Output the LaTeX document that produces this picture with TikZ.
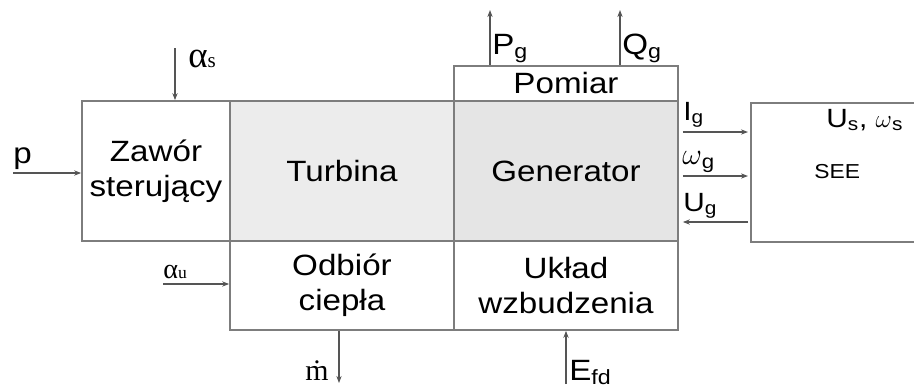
\documentclass[tikz,border=0pt]{standalone}
\usepackage{fontspec}
\setmainfont{Liberation Sans}[FakeStretch=1.13]
\newfontfamily\serif{Liberation Serif}
\usepackage{tikz}
\usetikzlibrary{positioning,calc,arrows.meta}
\definecolor{ramka}{RGB}{125,125,125}
\definecolor{strzalka}{RGB}{85,85,85}
\definecolor{jasny}{RGB}{236,236,236}
\definecolor{ciemny}{RGB}{229,229,229}

\begin{document}
\begin{tikzpicture}[x=0.02cm,y=-0.02cm,>={Stealth[length=4pt,width=3pt]},
blok/.style = {draw=ramka, line width=1pt, inner sep=0pt, align=center, font=\fontsize{16.7}{19.8}\selectfont},
strz/.style = {->, draw=strzalka, line width=0.6pt},
opis/.style = {inner sep=0pt, anchor=base west, font=\fontsize{16.7}{20}\selectfont},]
\useasboundingbox (0,0) rectangle (914,387);
% bloki
\node (zawor) at (156,171)[blok,minimum width=2.96cm,minimum height=2.8cm] {Zawór\\sterujący};
\node (turbina) at (342,171)[blok,fill=jasny,minimum width=4.48cm,minimum height=2.8cm] {Turbina};
\node (generator) at (566,171)[blok,fill=ciemny,minimum width=4.48cm,minimum height=2.8cm] {Generator};
\node (pomiar) at (566,83.5)[blok,minimum width=4.48cm,minimum height=0.7cm] {Pomiar};
\node (odbior) at (342,285.5)[blok,minimum width=4.48cm,minimum height=1.78cm] {Odbiór\\ciepła};
\node (uklad) at (566,285.5)[blok,minimum width=4.48cm,minimum height=1.78cm] {Układ\\wzbudzenia};
% SEE
\draw[ramka,line width=1pt] (914,103) -| (751,242) -- (914,242);
\node (see) at (814,178)[opis,font=\fontsize{11.5}{13}\selectfont] {SEE};
\node (us) at (826,127)[opis,font=\fontsize{15}{17}\selectfont] {U\textsubscript{s}, $\omega$\textsubscript{s}};
% wejscia i wyjscia
\coordinate (p0) at (13,173);
\coordinate (as0) at (175,48);
\coordinate (au0) at (163,284);
\coordinate (m1) at (339,383);
\coordinate (efd0) at (566,384);
\coordinate (pg1) at (490,10);
\coordinate (qg1) at (620,10);
\coordinate (ig1) at (748,132);
\coordinate (wg1) at (748,176);
\coordinate (ug0) at (748,222);
\draw[strz] (p0) -- (p0 -| zawor.west);
\draw[strz] (as0) -- (as0 |- zawor.north);
\draw[strz] (au0) -- (au0 -| odbior.west);
\draw[strz] (m1 |- odbior.south) -- (m1);
\draw[strz] (efd0) -- (uklad.south);
\draw[strz] (pg1 |- pomiar.north) -- (pg1);
\draw[strz] (qg1 |- pomiar.north) -- (qg1);
\draw[strz] ($(ig1 -| generator.east)+(4,0)$) -- (ig1);
\draw[strz] ($(wg1 -| generator.east)+(4,0)$) -- (wg1);
\draw[strz] (ug0) -- ($(ug0 -| generator.east)+(4,0)$);
% opisy
\node (lp) at (13,163)[opis] {p};
\node (las) at (188,67)[opis] {{\serif\fontsize{21}{24}\selectfont α}{\serif\fontsize{12}{14}\selectfont s}};
\node (lau) at (163,278)[opis] {{\serif\fontsize{16}{18}\selectfont α}{\serif\fontsize{10}{12}\selectfont u}};
\node (lm) at (305,380)[opis,font=\serif\fontsize{17}{19}\selectfont] {\.{m}};
\node (lefd) at (569,380)[opis] {E\textsubscript{fd}};
\node (lpg) at (492,54)[opis] {P\textsubscript{g}};
\node (lqg) at (622,54)[opis] {Q\textsubscript{g}};
\node (lig) at (683,120)[opis,font=\fontsize{15}{18}\selectfont] {I\textsubscript{g}};
\node (lwg) at (682,164)[opis,font=\fontsize{16}{18}\selectfont] {$\omega$\textsubscript{g}};
\node (lug) at (683,211)[opis,font=\fontsize{15}{18}\selectfont] {U\textsubscript{g}};
\end{tikzpicture}
\end{document}
